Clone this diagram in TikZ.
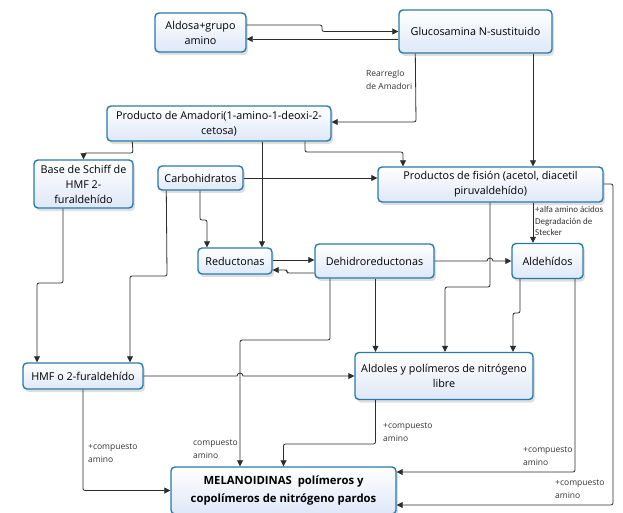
\documentclass[tikz,border=0pt]{standalone}
\usepackage{fontspec}
\setmainfont{Open Sans}
\newfontfamily\narrowfont{Carlito}
\usetikzlibrary{calc,shadows,arrows.meta}
\definecolor{boxline}{RGB}{40,122,170}
\definecolor{boxfill}{RGB}{222,232,248}
\definecolor{conncol}{RGB}{45,45,45}
\tikzset{
  box/.style={draw=boxline, line width=1.4pt, rounded corners=4pt,
    top color=white, bottom color=boxfill, align=center,
    font=\fontsize{10.8}{15}\selectfont, inner sep=1pt,
    drop shadow={opacity=0.25, shadow xshift=2pt, shadow yshift=-3pt}},
  conn/.style={draw=conncol, line width=0.8pt, rounded corners=2pt,
    -{Triangle[length=6pt,width=6pt]}},
  lbl/.style={font=\fontsize{8.5}{12.5}\selectfont, text=black!80, align=left, inner sep=0pt, anchor=north west}
}
\begin{document}
\begin{tikzpicture}[x=1pt,y=-1pt]
\useasboundingbox[fill=white] (0,0) rectangle (623,512);
% nodes
\node[box, minimum width=91pt, minimum height=39pt] (aldosa) at (200.5,32.5) {Aldosa+grupo\\amino};
\node[box, minimum width=153pt, minimum height=43pt] (gluco) at (475.5,31.5) {Glucosamina N-sustituido};
\node[box, minimum width=224pt, minimum height=35pt] (amadori) at (219,123.5) {Producto de Amadori(1-amino-1-deoxi-2-\\cetosa)};
\node[box, minimum width=99pt, minimum height=48pt] (base) at (83.5,184) {Base de Schiff de\\HMF 2-\\furaldehído};
\node[box, minimum width=85pt, minimum height=24pt] (carbo) at (200.5,178) {Carbohidratos};
\node[box, minimum width=225pt, minimum height=35pt] (fision) at (490.5,184.5) {Productos de fisión (acetol, diacetil\\piruvaldehído)};
\node[box, minimum width=74pt, minimum height=26pt] (reduc) at (235,261) {Reductonas};
\node[box, minimum width=119pt, minimum height=34pt] (dehidro) at (374.5,261) {Dehidroreductonas};
\node[box, minimum width=71pt, minimum height=35pt] (aldeh) at (547.5,261) {Aldehídos};
\node[box, minimum width=120pt, minimum height=26pt] (hmf) at (83,376) {HMF o 2-furaldehído};
\node[box, minimum width=178pt, minimum height=47pt] (aldoles) at (444,376) {Aldoles y polímeros de nitrógeno\\libre};
\node[box, minimum width=225pt, minimum height=47pt, font=\fontsize{11.3}{18}\selectfont\bfseries] (melan) at (283.5,490.5) {MELANOIDINAS\ \ polímeros y\\copolímeros de nitrógeno pardos};
% connectors
\draw[conn] ($(aldosa.east)+(0,-7.5)$) -- (322,25) -- (322,31.5) -- (gluco.west);
\draw[conn] ($(gluco.west)+(0,7.5)$) -- ($(aldosa.east)+(0,6.5)$);
\draw[conn] ($(gluco.south west)+(17,0)$) -- (416,122) -- ($(amadori.east)+(0,-1.5)$);
\draw[conn] ($(gluco.south)+(57.5,0)$) -- ($(fision.north)+(42.5,0)$);
\draw[conn] ($(amadori.south west)+(26,0)$) -- (133,153) -- (83.5,153) -- (base.north);
\draw[conn] ($(amadori.south)+(43,0)$) -- ($(reduc.north)+(27,0)$);
\draw[conn] ($(amadori.south)+(86,0)$) -- (305,152) -- (403,152) -- ($(fision.north)+(-87.5,0)$);
\draw[conn] (carbo.east) -- ($(fision.west)+(0,-6.5)$);
\draw[conn] ($(carbo.south)+(-0.5,0)$) -- (200,220) -- (207,220) -- ($(reduc.north)+(-28,0)$);
\draw[conn] ($(carbo.south west)+(9,0)$) -- (167,276) -- (130,276) -- ($(hmf.north)+(47,0)$);
\draw[conn] ($(base.south)+(-20.5,0)$) -- (63,283) -- (37,283) -- ($(hmf.north)+(-46,0)$);
\draw[conn] ($(reduc.east)+(0,-1)$) -- ($(dehidro.west)+(0,-1)$);
\draw[conn] ($(dehidro.west)+(0,12)$) -- (287,273) -- (287,270) -- ($(reduc.east)+(0,9)$);
\draw[conn, rounded corners=0pt] (dehidro.east) -- (487,261) arc[start angle=180, end angle=0, radius=3pt] -- (aldeh.west);
\draw[conn] ($(fision.south)+(42.5,0)$) -- ($(aldeh.north)+(-14.5,0)$);
\draw[conn] ($(fision.east)+(0,-0.5)$) -- (613,184) -- (613,505) -- ($(melan.east)+(0,14.5)$);
\draw[conn] ($(fision.south)+(-0.5,0)$) -- (490,287) -- (445,287) -- ($(aldoles.north)+(1,0)$);
\draw[conn] ($(dehidro.south)+(1,0)$) -- ($(aldoles.north)+(-68.5,0)$);
\draw[conn] ($(aldeh.south)+(-27.5,0)$) -- (520,313) -- (513,313) -- ($(aldoles.north)+(69,0)$);
\draw[conn] ($(aldeh.south)+(27.5,0)$) -- (575,472) -- ($(melan.east)+(0,-18.5)$);
\draw[conn] ($(dehidro.south)+(-44.5,0)$) -- (330,340) -- (240,340) -- ($(melan.north)+(-43.5,0)$);
\draw[conn] ($(aldoles.south)+(-68.5,0)$) -- (375.5,444) -- (283.5,444) -- (melan.north);
\draw[conn, rounded corners=0pt] (hmf.east) -- (237,376) arc[start angle=180, end angle=0, radius=3pt] -- (aldoles.west);
\draw[conn] (hmf.south) -- (83,490.5) -- (melan.west);
% labels
\node[lbl] (l1) at (366,70) {Rearreglo\\de Amadori};
\node[lbl, font=\narrowfont\fontsize{9}{11.7}\selectfont] (l2) at (535,206) {+alfa amino ácidos\\Degradación de\\Stecker};
\node[lbl] (l3) at (88,444) {+compuesto\\amino};
\node[lbl] (l4) at (193,440) {compuesto\\amino};
\node[lbl] (l5) at (383,423) {+compuesto\\amino};
\node[lbl] (l6) at (523,447) {+compuesto\\amino};
\node[lbl] (l7) at (555,480) {+compuesto\\amino};
\end{tikzpicture}
\end{document}
